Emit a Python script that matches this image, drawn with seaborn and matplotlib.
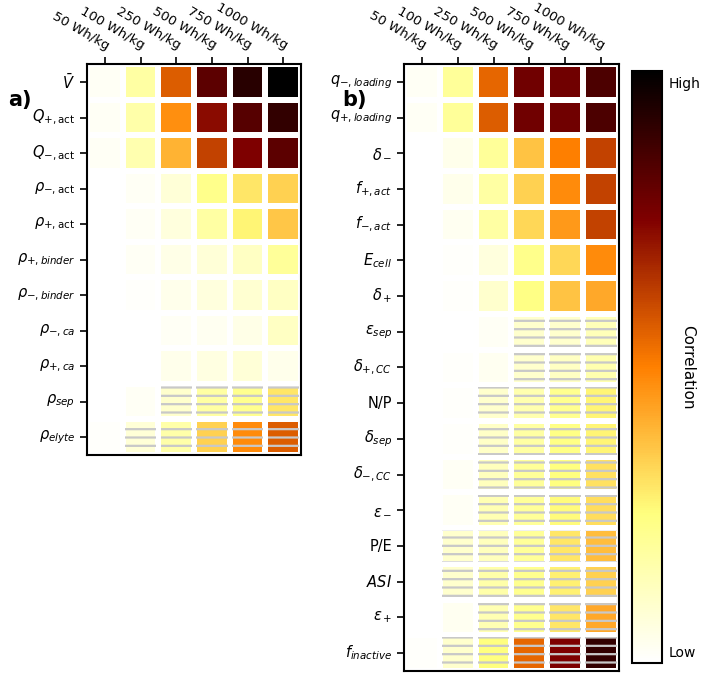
import numpy as np
import pandas as pd
import seaborn as sns
import matplotlib.pyplot as plt
from matplotlib.patches import Rectangle

# energy-density targets (columns)
energies = ['50 Wh/kg', '100 Wh/kg', '250 Wh/kg', '500 Wh/kg', '750 Wh/kg', '1000 Wh/kg']

# panel a) parameters; negative value = negative correlation (hatched)
params_a = [r'$\bar{V}$', r'$Q_{+,\mathrm{act}}$', r'$Q_{-,\mathrm{act}}$', r'$\rho_{-,\mathrm{act}}$',
            r'$\rho_{+,\mathrm{act}}$', r'$\rho_{+,binder}$', r'$\rho_{-,binder}$', r'$\rho_{-,ca}$',
            r'$\rho_{+,ca}$', r'$\rho_{sep}$', r'$\rho_{elyte}$']
corr_a = [
    [0.02, 0.18, 0.57, 0.82, 0.92, 1.00],
    [0.02, 0.17, 0.47, 0.73, 0.83, 0.90],
    [0.02, 0.16, 0.40, 0.62, 0.75, 0.82],
    [0.00, 0.02, 0.08, 0.23, 0.30, 0.34],
    [0.00, 0.02, 0.07, 0.18, 0.27, 0.36],
    [0.00, 0.02, 0.05, 0.08, 0.12, 0.20],
    [0.00, 0.01, 0.04, 0.07, 0.09, 0.12],
    [0.00, 0.00, 0.02, 0.03, 0.05, 0.12],
    [0.00, 0.00, 0.04, 0.06, 0.08, 0.04],
    [0.00, 0.02, -0.10, -0.18, -0.22, -0.30],
    [0.01, -0.08, -0.17, -0.34, -0.48, -0.57],
]

# panel b) parameters
params_b = [r'$q_{-,loading}$', r'$q_{+,loading}$', r'$\delta_-$', r'$f_{+,act}$', r'$f_{-,act}$',
            r'$E_{cell}$', r'$\delta_+$', r'$\varepsilon_{sep}$', r'$\delta_{+,CC}$', 'N/P',
            r'$\delta_{sep}$', r'$\delta_{-,CC}$', r'$\varepsilon_-$', 'P/E', r'$ASI$',
            r'$\varepsilon_+$', r'$f_{inactive}$']
corr_b = [
    [0.02, 0.20, 0.55, 0.78, 0.78, 0.85],
    [0.02, 0.20, 0.57, 0.78, 0.78, 0.85],
    [0.00, 0.04, 0.20, 0.37, 0.50, 0.62],
    [0.00, 0.04, 0.18, 0.34, 0.48, 0.62],
    [0.00, 0.03, 0.18, 0.33, 0.45, 0.62],
    [0.00, 0.01, 0.07, 0.23, 0.33, 0.48],
    [0.00, 0.01, 0.10, 0.24, 0.37, 0.42],
    [0.00, 0.00, 0.02, -0.10, -0.10, -0.14],
    [0.00, 0.01, 0.03, -0.10, -0.12, -0.16],
    [0.00, 0.01, -0.10, -0.16, -0.22, -0.27],
    [0.00, 0.01, -0.11, -0.18, -0.24, -0.27],
    [0.00, 0.02, -0.13, -0.20, -0.25, -0.31],
    [0.00, 0.02, -0.15, -0.20, -0.26, -0.32],
    [0.00, -0.10, -0.13, -0.20, -0.30, -0.38],
    [0.00, -0.10, -0.17, -0.22, -0.28, -0.34],
    [0.00, 0.03, -0.15, -0.22, -0.30, -0.42],
    [0.01, -0.10, -0.25, -0.55, -0.75, -0.90],
]

plt.rcParams['hatch.linewidth'] = 1.6
W, H = 702, 676
fig = plt.figure(figsize=(W / 100, H / 100), dpi=100)
ax_a = fig.add_axes([0.124, 0.327, 0.305, 0.578])
ax_b = fig.add_axes([0.5755, 0.0074, 0.306, 0.898])
cax = fig.add_axes([0.900, 0.0192, 0.043, 0.876])


def draw_panel(ax, corr, params):
    df = pd.DataFrame(np.abs(corr), index=params, columns=energies)
    sns.heatmap(df, ax=ax, cmap='afmhot_r', vmin=0, vmax=1, linewidths=3,
                linecolor='white', cbar=False)
    # negative correlations get grey horizontal hatching
    inset = 0.06
    for i, row in enumerate(corr):
        for j, v in enumerate(row):
            if v < 0:
                ax.add_patch(Rectangle((j + inset, i + inset), 1 - 2 * inset, 1 - 2 * inset,
                                       facecolor='none', edgecolor='#c8c8c8', lw=0, hatch='--'))
    ax.xaxis.tick_top()
    ax.set_xticklabels(energies, rotation=-30, ha='right', rotation_mode='anchor', fontsize=9.5)
    ax.set_yticklabels(params, rotation=0, fontsize=10.5)
    ax.tick_params(axis='both', length=5, width=1.2)
    ax.set_xlabel('')
    ax.set_ylabel('')
    for s in ax.spines.values():
        s.set_visible(True)
        s.set_linewidth(1.5)
        s.set_color('black')


draw_panel(ax_a, corr_a, params_a)
draw_panel(ax_b, corr_b, params_b)

cb = fig.colorbar(ax_b.collections[0], cax=cax)
cb.set_ticks([0.02, 0.98])
cb.set_ticklabels(['Low', 'High'])
cb.ax.tick_params(length=0, labelsize=10, pad=5)
cb.outline.set_linewidth(1.5)
cb.outline.set_edgecolor('black')
cax.text(1.85, 0.5, 'Correlation', rotation=270, va='center', ha='center',
         fontsize=11, transform=cax.transAxes)

fig.text(0.012, 0.852, 'a)', fontsize=15, fontweight='bold', va='center')
fig.text(0.487, 0.852, 'b)', fontsize=15, fontweight='bold', va='center')

fig.savefig('out.png', dpi=100)
